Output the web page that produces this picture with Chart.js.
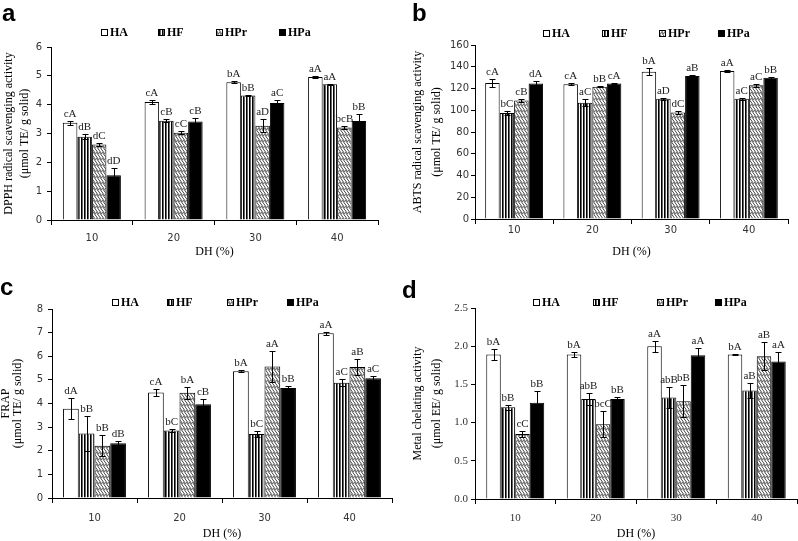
<!DOCTYPE html>
<html><head><meta charset="utf-8">
<script src="https://cdn.jsdelivr.net/npm/chart.js@4/dist/chart.umd.min.js"></script>
<style>
html,body{margin:0;padding:0;background:#fff;}
#wrap{position:relative;width:798px;height:541px;overflow:hidden;background:#fff;}
canvas{position:absolute;}
.lt{position:absolute;font:bold 24px "Liberation Sans",Arial,sans-serif;line-height:24px;color:#000;}
</style></head><body>
<div id="wrap">
<canvas id="ca" width="400" height="270" style="left:0;top:0"></canvas>
<canvas id="cb" width="398" height="270" style="left:400px;top:0"></canvas>
<canvas id="cc" width="400" height="271" style="left:0;top:270px"></canvas>
<canvas id="cd" width="398" height="271" style="left:400px;top:270px"></canvas>
<div class="lt" style="left:2px;top:1px">a</div>
<div class="lt" style="left:412px;top:1px">b</div>
<div class="lt" style="left:0px;top:275px">c</div>
<div class="lt" style="left:402px;top:278px">d</div>
</div>
<script>
// ---------- data ----------
const categories = ['10', '20', '30', '40'];
const seriesNames = ['HA', 'HF', 'HPr', 'HPa'];

// (a) DPPH
const dpphHA = [3.37, 4.09, 4.78, 4.96];
const dpphHF = [2.89, 3.44, 4.32, 4.71];
const dpphHPr = [2.62, 3.03, 3.27, 3.21];
const dpphHPa = [1.55, 3.42, 4.06, 3.43];
const dpphHAErr = [0.08, 0.08, 0.03, 0.05];
const dpphHFErr = [0.08, 0.05, 0.03, 0.02];
const dpphHPrErr = [0.04, 0.05, 0.22, 0.04];
const dpphHPaErr = [0.27, 0.12, 0.09, 0.25];
const dpphHALet = ['cA', 'cA', 'bA', 'aA'];
const dpphHFLet = ['dB', 'cB', 'bB', 'aA'];
const dpphHPrLet = ['dC', 'cC', 'aD', 'bcB'];
const dpphHPaLet = ['dD', 'cB', 'aC', 'bB'];
const dpphTicks = [0, 1, 2, 3, 4, 5, 6];

// (b) ABTS
const abtsHA = [125, 124, 135.5, 136];
const abtsHF = [97.5, 107, 110.5, 110.5];
const abtsHPr = [109, 121.5, 98, 123];
const abtsHPa = [124.5, 124.5, 131.5, 130];
const abtsHAErr = [4, 1, 3, 0.7];
const abtsHFErr = [2, 3, 1, 1];
const abtsHPrErr = [1, 0.5, 1, 1.5];
const abtsHPaErr = [2, 0.5, 1, 1];
const abtsHALet = ['cA', 'cA', 'bA', 'aA'];
const abtsHFLet = ['bC', 'aC', 'aD', 'aC'];
const abtsHPrLet = ['cB', 'bB', 'dC', 'aC'];
const abtsHPaLet = ['dA', 'cA', 'aB', 'bB'];
const abtsTicks = [0, 20, 40, 60, 80, 100, 120, 140, 160];

// (c) FRAP
const frapHA = [3.78, 4.47, 5.37, 6.97];
const frapHF = [2.73, 2.86, 2.71, 4.88];
const frapHPr = [2.21, 4.45, 5.57, 5.55];
const frapHPa = [2.32, 3.97, 4.66, 5.07];
const frapHAErr = [0.45, 0.14, 0.04, 0.07];
const frapHFErr = [0.76, 0.05, 0.12, 0.15];
const frapHPrErr = [0.45, 0.26, 0.64, 0.33];
const frapHPaErr = [0.08, 0.22, 0.07, 0.08];
const frapHALet = ['dA', 'cA', 'bA', 'aA'];
const frapHFLet = ['bB', 'bC', 'bC', 'aC'];
const frapHPrLet = ['bB', 'bA', 'aA', 'aB'];
const frapHPaLet = ['dB', 'cB', 'bB', 'aC'];
const frapTicks = [0, 1, 2, 3, 4, 5, 6, 7, 8];

// (d) Metal chelating
const metalHA = [1.89, 1.89, 2.0, 1.89];
const metalHF = [1.2, 1.31, 1.33, 1.42];
const metalHPr = [0.85, 0.98, 1.28, 1.87];
const metalHPa = [1.26, 1.31, 1.88, 1.8];
const metalHAErr = [0.07, 0.03, 0.07, 0.01];
const metalHFErr = [0.03, 0.08, 0.14, 0.1];
const metalHPrErr = [0.04, 0.17, 0.21, 0.18];
const metalHPaErr = [0.16, 0.02, 0.09, 0.12];
const metalHALet = ['bA', 'bA', 'aA', 'bA'];
const metalHFLet = ['bB', 'abB', 'abB', 'aB'];
const metalHPrLet = ['cC', 'bcC', 'bB', 'aB'];
const metalHPaLet = ['bB', 'bB', 'aA', 'aA'];
const metalTicks = [0, 0.5, 1.0, 1.5, 2.0, 2.5];

// ---------- fills ----------
function stripePattern() {
  const c = document.createElement('canvas'); c.width = 3; c.height = 3;
  const g = c.getContext('2d');
  g.fillStyle = '#fff'; g.fillRect(0, 0, 3, 3);
  g.fillStyle = '#000'; g.fillRect(0, 0, 1, 3);
  g.fillStyle = '#666'; g.fillRect(1, 0, 1, 3);
  return g.createPattern(c, 'repeat');
}
function wavePattern() {
  const c = document.createElement('canvas'); c.width = 6; c.height = 6;
  const g = c.getContext('2d');
  g.fillStyle = '#fff'; g.fillRect(0, 0, 6, 6);
  g.strokeStyle = '#444'; g.lineWidth = 1;
  for (const ox of [-6, -3, 0, 3, 6]) {
    for (const oy of [-6, 0, 6]) {
      g.beginPath();
      g.moveTo(ox + 0, oy + 0);
      g.lineTo(ox + 2.5, oy + 3.5);
      g.lineTo(ox + 3.5, oy + 2.5);
      g.lineTo(ox + 6, oy + 6);
      g.stroke();
    }
  }
  return g.createPattern(c, 'repeat');
}
const fills = ['#ffffff', stripePattern(), wavePattern(), '#000000'];

// ---------- plugins ----------
const errorBarPlugin = {
  id: 'errbars',
  afterDatasetsDraw(chart, args, opts) {
    const ctx = chart.ctx, ys = chart.scales.y;
    chart.data.datasets.forEach((ds, i) => {
      const meta = chart.getDatasetMeta(i);
      meta.data.forEach((bar, j) => {
        const v = ds.data[j], e = ds.errors[j];
        const yt = Math.round(ys.getPixelForValue(v + e)) + 0.5;
        const yb = Math.round(ys.getPixelForValue(v - e)) + 0.5;
        const x = Math.round(bar.x) + 0.5;
        ctx.save();
        ctx.strokeStyle = '#000'; ctx.lineWidth = 1;
        ctx.beginPath();
        ctx.moveTo(x, yt); ctx.lineTo(x, yb);
        ctx.moveTo(x - 3, yt); ctx.lineTo(x + 3, yt);
        ctx.moveTo(x - 3, yb); ctx.lineTo(x + 3, yb);
        ctx.stroke();
        ctx.fillStyle = '#222';
        ctx.font = opts.font;
        ctx.textAlign = 'center'; ctx.textBaseline = 'bottom';
        ctx.fillText(ds.letters[j], bar.x, Math.min(yt, bar.y) - 2);
        ctx.restore();
      });
    });
  }
};
const legendPlugin = {
  id: 'patLegend',
  afterDraw(chart, args, opts) {
    const ctx = chart.ctx;
    chart.data.datasets.forEach((ds, i) => {
      const x = opts.x[i], y = opts.y;
      ctx.save();
      ctx.fillStyle = ds.backgroundColor;
      ctx.fillRect(x, y - 3, 7, 7);
      ctx.strokeStyle = '#000'; ctx.lineWidth = 1;
      ctx.strokeRect(x + 0.5, y - 2.5, 6, 6);
      ctx.font = 'bold 12px "Liberation Serif", serif';
      ctx.fillStyle = '#000';
      ctx.textBaseline = 'middle'; ctx.textAlign = 'left';
      ctx.fillText(ds.label, x + 9, y + 1);
      ctx.restore();
    });
  }
};

function makeChart(id, cfg) {
  const datasets = cfg.series.map((s, i) => ({
    label: seriesNames[i], data: s[0], errors: s[1], letters: s[2],
    backgroundColor: fills[i], borderColor: '#000', borderWidth: 1,
    categoryPercentage: cfg.catPct, barPercentage: 1
  }));
  const tickFont = cfg.serifTicks
    ? { family: '"Liberation Serif", serif', size: 11 }
    : { family: '"DejaVu Sans", sans-serif', size: 10 };
  new Chart(document.getElementById(id), {
    type: 'bar',
    data: { labels: categories, datasets },
    options: {
      responsive: false, animation: false,
      layout: { padding: { left: 0, right: cfg.padR, top: cfg.padT, bottom: 0 } },
      plugins: {
        legend: { display: false }, tooltip: { enabled: false },
        patLegend: { x: cfg.legX, y: cfg.legY },
        errbars: { font: '11px "Liberation Serif", serif' }
      },
      scales: {
        x: {
          grid: { display: true, drawOnChartArea: false, drawTicks: true, tickLength: 5, color: '#000' },
          border: { display: true, color: '#000', width: 1 },
          ticks: { font: tickFont, color: '#333', padding: cfg.xTickPad, maxRotation: 0 },
          title: { display: true, text: 'DH (%)', color: '#000',
            font: { family: '"Liberation Serif", serif', size: 12 },
            padding: { top: 0, bottom: cfg.xTitlePad } },
          afterFit(s) { s.height = cfg.xH; }
        },
        y: {
          min: cfg.ticks[0], max: cfg.ticks[cfg.ticks.length - 1],
          afterBuildTicks(s) { s.ticks = cfg.ticks.map(v => ({ value: v })); },
          grid: { display: true, drawOnChartArea: false, drawTicks: true, tickLength: 4, color: '#000' },
          border: { display: true, color: '#000', width: 1 },
          ticks: { font: tickFont, color: '#333', padding: cfg.yTickPad,
            callback: v => cfg.serifTicks ? Number(v).toFixed(1) : String(v) },
          title: { display: true, text: cfg.yTitle, color: '#000',
            font: { family: '"Liberation Serif", serif', size: 12, lineHeight: cfg.yLH },
            padding: { top: cfg.yTitlePad, bottom: 0 } },
          afterFit(s) { s.width = cfg.yW; }
        }
      }
    },
    plugins: [errorBarPlugin, legendPlugin]
  });
}

makeChart('ca', {
  series: [[dpphHA, dpphHAErr, dpphHALet], [dpphHF, dpphHFErr, dpphHFLet],
           [dpphHPr, dpphHPrErr, dpphHPrLet], [dpphHPa, dpphHPaErr, dpphHPaLet]],
  ticks: dpphTicks, yTitle: ['DPPH radical scavenging activity', '(\u03bcmol TE/ g solid)'],
  catPct: 0.71, padR: 22, padT: 47, yW: 51, xH: 50, xTickPad: 7, xTitlePad: 11,
  yTickPad: 5, yLH: 1.4, yTitlePad: 0, legX: [101, 158, 216, 279], legY: 32
});
makeChart('cb', {
  series: [[abtsHA, abtsHAErr, abtsHALet], [abtsHF, abtsHFErr, abtsHFLet],
           [abtsHPr, abtsHPrErr, abtsHPrLet], [abtsHPa, abtsHPaErr, abtsHPaLet]],
  ticks: abtsTicks, yTitle: ['ABTS radical scavenging activity', '(\u03bcmol TE/ g solid)'],
  catPct: 0.74, padR: 10, padT: 45, yW: 75, xH: 51, xTickPad: 0, xTitlePad: 11,
  yTickPad: 2, yLH: 1.6, yTitlePad: 8, legX: [143, 202, 259, 318], legY: 33
});
makeChart('cc', {
  series: [[frapHA, frapHAErr, frapHALet], [frapHF, frapHFErr, frapHFLet],
           [frapHPr, frapHPrErr, frapHPrLet], [frapHPa, frapHPaErr, frapHPaLet]],
  ticks: frapTicks, yTitle: ['FRAP', '(\u03bcmol TE/ g solid)'],
  catPct: 0.74, padR: 8, padT: 39, yW: 52, xH: 43, xTickPad: 9, xTitlePad: 0,
  yTickPad: 5, yLH: 1.0, yTitlePad: 0, legX: [112, 167, 227, 287], legY: 32
});
makeChart('cd', {
  series: [[metalHA, metalHAErr, metalHALet], [metalHF, metalHFErr, metalHFLet],
           [metalHPr, metalHPrErr, metalHPrLet], [metalHPa, metalHPaErr, metalHPaLet]],
  ticks: metalTicks, yTitle: ['Metal chelating activity', '(\u03bcmol EE/ g solid)'],
  catPct: 0.72, padR: 1, padT: 38, yW: 75, xH: 42, xTickPad: 8, xTitlePad: 0,
  yTickPad: 3, yLH: 1.6, yTitlePad: 8, serifTicks: true,
  legX: [133, 193, 257, 315], legY: 32
});
</script>
</body></html>
